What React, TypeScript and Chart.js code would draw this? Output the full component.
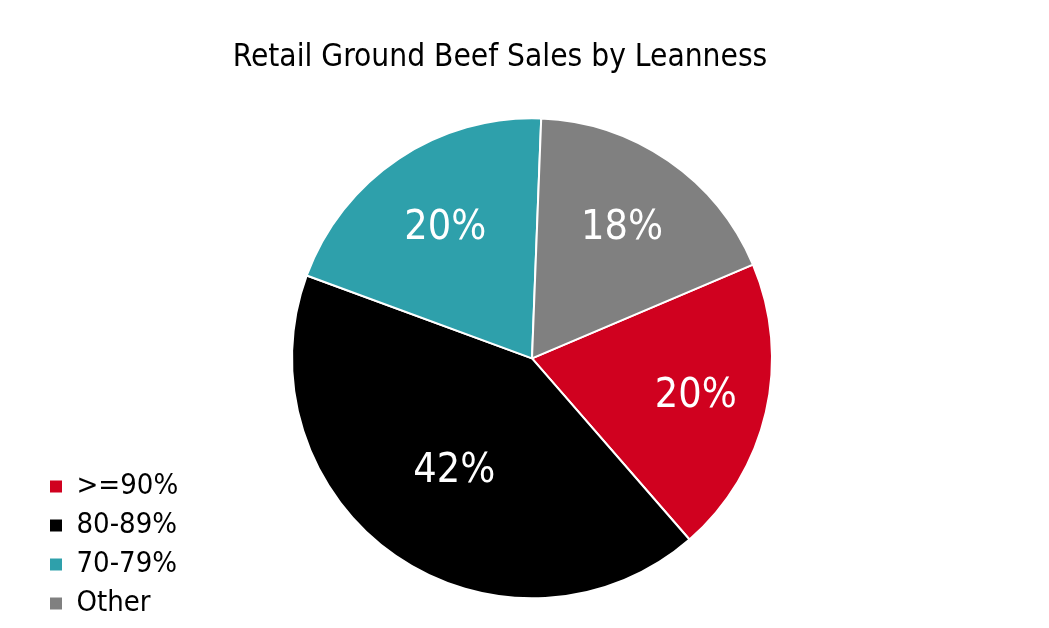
import { useEffect, useRef } from "react";
import { Chart, registerables } from "chart.js";

Chart.register(...registerables);

const categories = [">=90%", "80-89%", "70-79%", "Other"];
const shares = [20, 42, 20, 18];
const colors = ["#D0011F", "#000000", "#2EA0AB", "#808080"];
// how far out (fraction of radius) each percentage label sits
const labelDist = [0.7, 0.57, 0.65, 0.66];

const FONT = "Tahoma, 'DejaVu Sans Condensed', 'DejaVu Sans', sans-serif";

const sliceLabels = {
  id: "sliceLabels",
  afterDatasetsDraw(chart: any) {
    const { ctx } = chart;
    const meta = chart.getDatasetMeta(0);
    ctx.save();
    ctx.font = `41px ${FONT}`;
    ctx.fillStyle = "#ffffff";
    ctx.textAlign = "center";
    ctx.textBaseline = "middle";
    meta.data.forEach((arc: any, i: number) => {
      const { x, y, startAngle, endAngle, outerRadius } = arc.getProps(
        ["x", "y", "startAngle", "endAngle", "outerRadius"],
        true
      );
      const mid = (startAngle + endAngle) / 2;
      const r = outerRadius * labelDist[i];
      ctx.fillText(shares[i] + "%", x + Math.cos(mid) * r, y + Math.sin(mid) * r);
    });
    ctx.restore();
  },
};

// legend is laid out narrow (so the pie and title sit where they do in the original),
// then allowed to draw past its box
const legendOverflow = {
  id: "legendOverflow",
  afterLayout(chart: any) {
    const lg = chart.legend;
    if (lg) lg.right = lg.left + 220;
  },
};

export default function App() {
  const canvasRef = useRef<HTMLCanvasElement | null>(null);

  useEffect(() => {
    if (!canvasRef.current) return;
    const ctx = canvasRef.current.getContext("2d");
    if (!ctx) return;

    const chart = new Chart(ctx, {
      type: "pie",
      data: {
        labels: categories,
        datasets: [
          {
            data: shares,
            backgroundColor: colors,
            borderColor: "#ffffff",
            borderWidth: 2,
            radius: 240,
          },
        ],
      },
      options: {
        responsive: false,
        animation: false,
        events: [],
        rotation: 67,
        layout: { padding: { left: 40, right: 89, top: 0, bottom: 0 } },
        plugins: {
          title: {
            display: true,
            text: "Retail Ground Beef Sales by Leanness",
            color: "#000000",
            font: { family: FONT, size: 31.4, weight: "normal" },
            padding: { top: 39, bottom: 12 },
          },
          legend: {
            position: "left",
            align: "end",
            maxWidth: 64,
            labels: {
              color: "#000000",
              font: { family: FONT, size: 29 },
              boxWidth: 12,
              boxHeight: 12,
              padding: 10,
              generateLabels: () =>
                categories.map((text, i) => ({
                  text,
                  fillStyle: colors[i],
                  strokeStyle: colors[i],
                  lineWidth: 0,
                  hidden: false,
                  index: i,
                })),
            },
          },
          tooltip: { enabled: false },
        },
      },
      plugins: [sliceLabels, legendOverflow],
    });

    return () => chart.destroy();
  }, []);

  return (
    <div style={{ position: "absolute", left: 0, top: 0, width: 1049, height: 628, background: "#ffffff" }}>
      <canvas ref={canvasRef} width={1049} height={628} />
    </div>
  );
}
